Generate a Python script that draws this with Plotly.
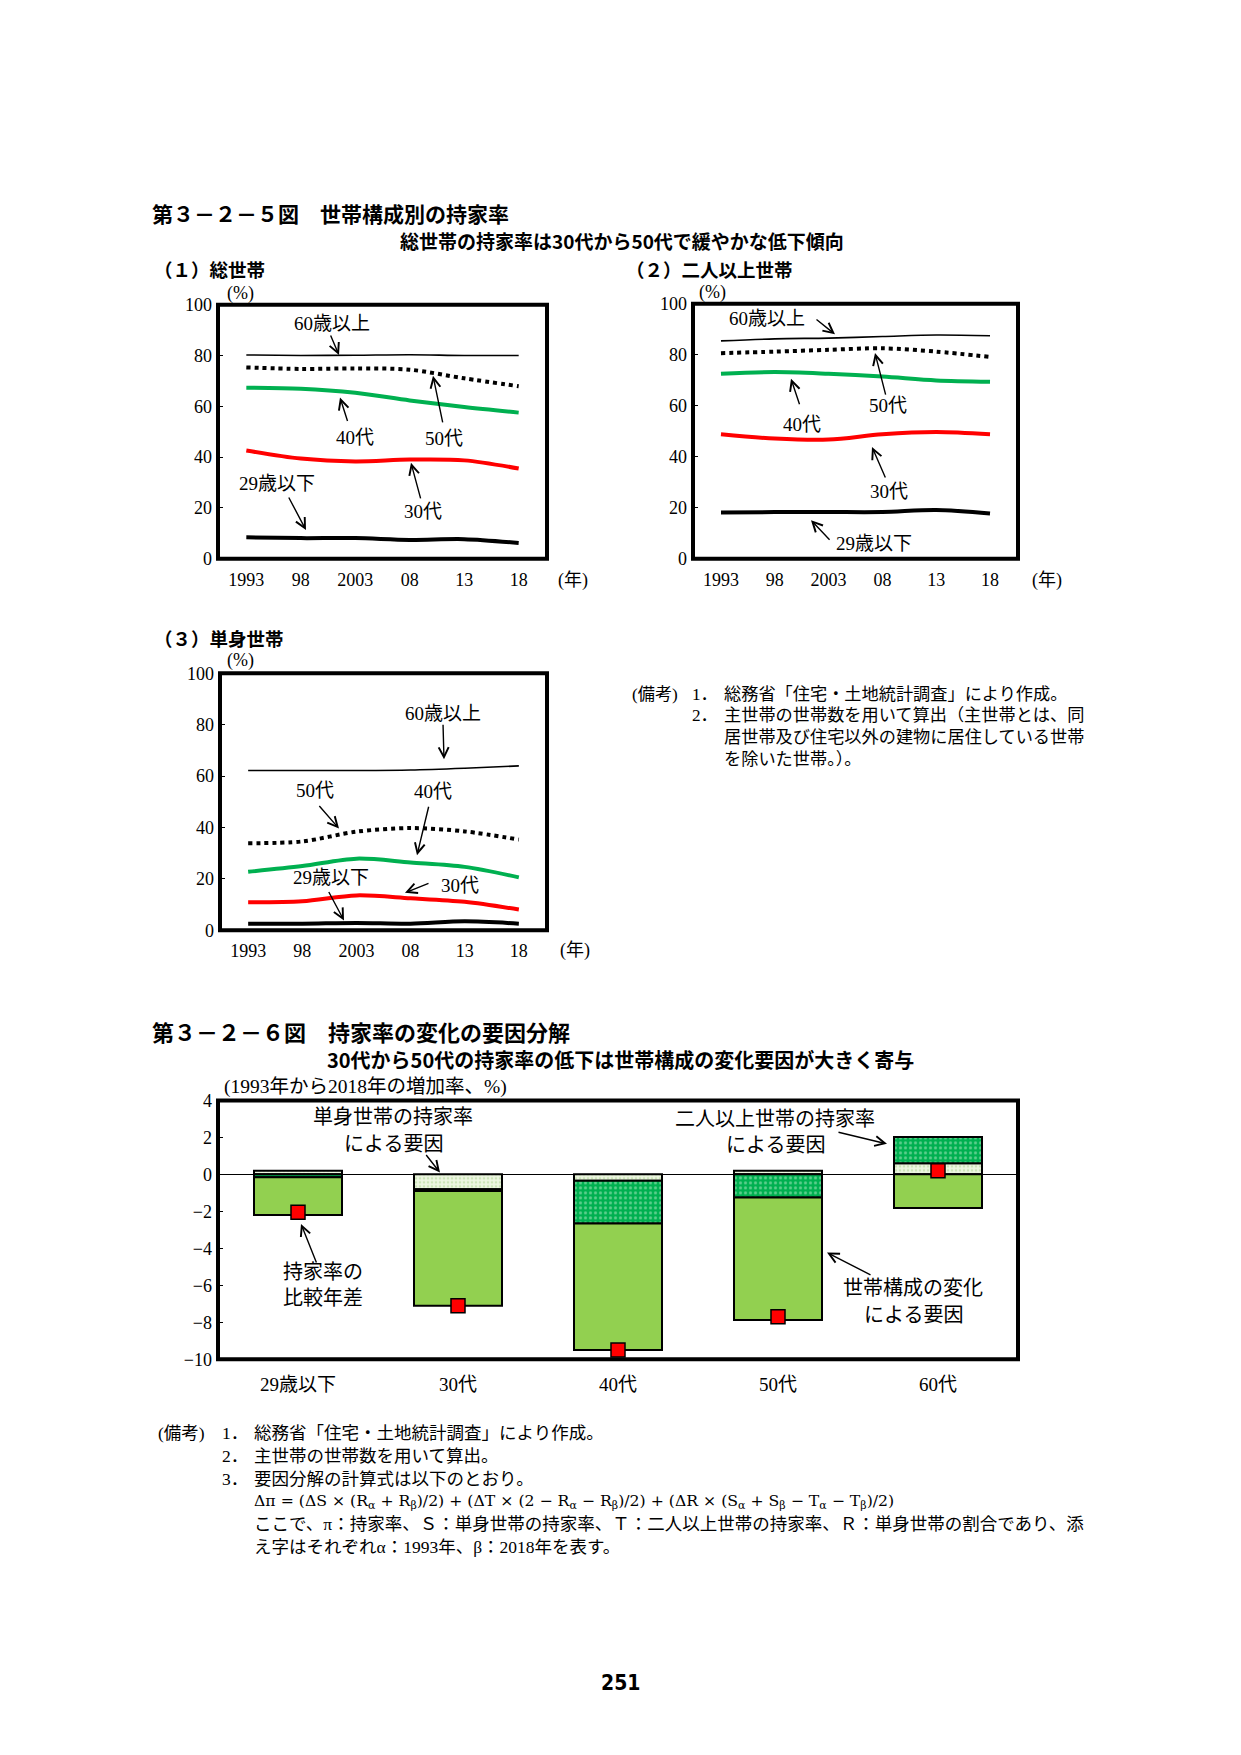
import plotly.graph_objects as go

# the page body has an 8px margin, so the figure is placed at (8, 8)
OFF = 8
W, H = 1222, 1735

# ---- data: home-ownership rate by household type (%) ----
years = [1993, 1998, 2003, 2008, 2013, 2018]
year_ticks = ["1993", "98", "2003", "08", "13", "18"]

total_60 = [80.2, 80.0, 80.1, 80.3, 80.0, 80.0]
total_50 = [75.3, 74.7, 74.9, 74.4, 71.0, 67.9]
total_40 = [67.3, 66.9, 65.3, 62.3, 59.7, 57.5]
total_30 = [42.6, 39.4, 38.3, 39.0, 38.7, 35.5]
total_29 = [8.4, 8.1, 8.1, 7.4, 7.7, 6.2]

multi_60 = [85.4, 86.2, 86.5, 87.1, 87.7, 87.4]
multi_50 = [80.6, 81.2, 81.9, 82.5, 81.2, 79.1]
multi_40 = [72.5, 73.2, 72.5, 71.4, 69.9, 69.4]
multi_30 = [48.8, 47.1, 46.7, 48.8, 49.7, 48.8]
multi_29 = [18.1, 18.3, 18.3, 18.3, 19.1, 17.7]

single_60 = [62.2, 62.2, 62.2, 62.4, 63.1, 64.0]
single_50 = [33.9, 34.6, 38.4, 39.8, 38.5, 35.3]
single_40 = [22.8, 25.0, 27.9, 26.4, 24.7, 20.6]
single_30 = [10.9, 11.3, 13.6, 12.5, 11.1, 8.1]
single_29 = [2.6, 2.6, 2.9, 2.6, 3.5, 2.6]

# ---- data: factor decomposition 1993 -> 2018 (%pt) ----
age_groups = ["29歳以下", "30代", "40代", "50代", "60代"]
f_single = [0.2, -0.8, -0.35, 0.2, 0.6]
f_multi = [-0.15, -0.1, -2.3, -1.25, 1.42]
f_comp = [-2.05, -6.2, -6.85, -6.62, -1.82]
rate_diff = [-2.05, -7.1, -9.5, -7.7, 0.2]

SERIF = "Liberation Serif, Noto Sans CJK JP"
GOTH = "Noto Sans CJK JP"


def px(x):
    # page pixel -> paper fraction
    return (x - OFF) / W


def py(y):
    return 1 - (y - OFF) / H


# line styles: 60+ thin, 50s dotted, 40s green, 30s red, <=29 thick black
line_styles = [
    dict(color="black", width=1.6),
    dict(color="black", width=4, dash="dot"),
    dict(color="#00b050", width=4),
    dict(color="#ff0000", width=4),
    dict(color="black", width=4),
]

panels = [
    # axis suffix, series, x domain px, y domain px (top, bottom)
    ("", [total_60, total_50, total_40, total_30, total_29], (218, 547), (298, 555)),
    ("2", [multi_60, multi_50, multi_40, multi_30, multi_29], (693, 1018), (297, 555)),
    ("3", [single_60, single_50, single_40, single_30, single_29], (220, 547), (671, 931)),
]

fig = go.Figure()
layout = dict(
    width=W, height=H,
    margin=dict(l=0, r=0, t=0, b=0),
    paper_bgcolor="white", plot_bgcolor="white",
    showlegend=False,
    barmode="relative",
)
shapes = []

for sfx, series, (x0, x1), (top, bot) in panels:
    for vals, st in zip(series, line_styles):
        fig.add_trace(go.Scatter(
            x=years, y=vals, mode="lines",
            line=dict(shape="spline", smoothing=0.9, **st),
            xaxis="x" + sfx, yaxis="y" + sfx, hoverinfo="skip",
        ))
    layout["xaxis" + sfx] = dict(
        domain=[px(x0), px(x1)], anchor="y" + sfx,
        range=[1990.4, 2020.6], tickvals=years, ticktext=year_ticks,
        showgrid=False, zeroline=False, showline=False, ticks="",
        ticklabelstandoff=8,
        tickfont=dict(family=SERIF, size=18, color="black"),
    )
    layout["yaxis" + sfx] = dict(
        domain=[py(bot), py(top)], anchor="x" + sfx,
        range=[0, 100], dtick=20,
        showgrid=False, zeroline=False, showline=False,
        ticks="inside", ticklen=5, tickcolor="black",
        ticklabelstandoff=5,
        tickfont=dict(family=SERIF, size=18, color="black"),
    )
    shapes.append(dict(
        type="rect", xref="x%s domain" % sfx, yref="y%s domain" % sfx,
        x0=0, x1=1, y0=0, y1=1, line=dict(color="black", width=4),
        layer="above",
    ))

# ---- factor bars ----
fig.add_trace(go.Bar(
    x=age_groups, y=f_single, width=0.55, xaxis="x4", yaxis="y4",
    marker=dict(
        color="#eef6e2", line=dict(color="black", width=2),
        pattern=dict(shape=".", fgcolor="#a9d18e", size=4, solidity=0.35,
                     fillmode="overlay"),
    ),
))
fig.add_trace(go.Bar(
    x=age_groups, y=f_multi, width=0.55, xaxis="x4", yaxis="y4",
    marker=dict(
        color="#00b050", line=dict(color="black", width=2),
        pattern=dict(shape=".", fgcolor="#b8ecc8", size=5, solidity=0.3,
                     fillmode="overlay"),
    ),
))
fig.add_trace(go.Bar(
    x=age_groups, y=f_comp, width=0.55, xaxis="x4", yaxis="y4",
    marker=dict(color="#92d050", line=dict(color="black", width=2)),
))
fig.add_trace(go.Scatter(
    x=age_groups, y=rate_diff, mode="markers", xaxis="x4", yaxis="y4",
    marker=dict(symbol="square", size=14, color="#ff0000",
                line=dict(color="black", width=1.5)),
))
layout["xaxis4"] = dict(
    domain=[px(218), px(1018)], anchor="y4", type="category",
    range=[-0.5, 4.5], showgrid=False, zeroline=False, showline=False,
    ticks="", ticklabelstandoff=12,
    tickfont=dict(family=SERIF, size=19, color="black"),
)
layout["yaxis4"] = dict(
    domain=[py(1365), py(1103)], anchor="x4",
    range=[-10, 4], dtick=2,
    showgrid=False, zeroline=True, zerolinecolor="black", zerolinewidth=1,
    showline=False, ticks="inside", ticklen=5, tickcolor="black",
    ticklabelstandoff=5,
    tickfont=dict(family=SERIF, size=18, color="black"),
)
shapes.append(dict(
    type="rect", xref="x4 domain", yref="y4 domain",
    x0=0, x1=1, y0=0, y1=1, line=dict(color="black", width=4), layer="above",
))

annotations = []


def text(s, x, y, size=19, family=SERIF, anchor="center", bold=False):
    annotations.append(dict(
        text=s, x=px(x), y=py(y), xref="paper", yref="paper",
        xanchor=anchor, yanchor="middle", showarrow=False,
        font=dict(family=family, size=size, color="black",
                  weight="bold" if bold else "normal"),
    ))


def arrow(tail, head):
    annotations.append(dict(
        text="", x=px(head[0]), y=py(head[1]), xref="paper", yref="paper",
        ax=tail[0] - head[0], ay=tail[1] - head[1],
        axref="pixel", ayref="pixel", showarrow=True,
        arrowhead=5, arrowsize=1.4, arrowwidth=1.4, arrowcolor="black",
        standoff=0,
    ))


# titles
text("第３－２－５図　世帯構成別の持家率", 150, 205, 21, GOTH, "left", True)
text("総世帯の持家率は30代から50代で緩やかな低下傾向", 622, 233, 19, GOTH, "center", True)
text("（１）総世帯", 152, 262, 18.5, GOTH, "left", True)
text("（２）二人以上世帯", 624, 262, 18.5, GOTH, "left", True)
text("（３）単身世帯", 152, 635, 18.5, GOTH, "left", True)

# units
for ux, uy in [(240, 287), (713, 286), (240, 658)]:
    text("(%)", ux, uy, 18)
for ux, uy in [(573, 577), (1047, 577), (575, 951)]:
    text("(年)", ux, uy, 18)

# panel 1 labels
text("60歳以上", 332, 317)
arrow((330, 328), (339, 349))
text("40代", 355, 432)
arrow((348, 417), (340, 392))
text("50代", 444, 433)
arrow((443, 418), (433, 370))
text("30代", 423, 507)
arrow((421, 495), (411, 458))
text("29歳以下", 277, 479)
arrow((288, 492), (306, 526))

# panel 2 labels
text("60歳以上", 767, 312)
arrow((815, 312), (835, 328))
text("50代", 888, 400)
arrow((886, 390), (875, 347))
text("40代", 802, 419)
arrow((800, 400), (791, 373))
text("30代", 889, 487)
arrow((886, 474), (872, 442))
text("29歳以下", 874, 540)
arrow((831, 537), (811, 516))

# panel 3 labels
text("60歳以上", 443, 712)
arrow((443, 722), (444, 758))
text("50代", 315, 790)
arrow((318, 804), (339, 828))
text("40代", 433, 791)
arrow((429, 805), (417, 855))
text("30代", 460, 886)
arrow((430, 883), (405, 893))
text("29歳以下", 331, 878)
arrow((328, 891), (344, 921))

# notes (top right)
NOTE = 17.2
text("(備考)", 630, 692, NOTE, SERIF, "left")
text("1．", 690, 692, NOTE, SERIF, "left")
text("総務省「住宅・土地統計調査」により作成。", 722, 692, NOTE, SERIF, "left")
text("2．", 690, 714, NOTE, SERIF, "left")
text("主世帯の世帯数を用いて算出（主世帯とは、同", 722, 714, NOTE, SERIF, "left")
text("居世帯及び住宅以外の建物に居住している世帯", 722, 736, NOTE, SERIF, "left")
text("を除いた世帯。）。", 722, 758, NOTE, SERIF, "left")

# bar chart titles
text("第３－２－６図　持家率の変化の要因分解", 150, 1033, 22, GOTH, "left", True)
text("30代から50代の持家率の低下は世帯構成の変化要因が大きく寄与", 620, 1062, 20, GOTH, "center", True)
text("(1993年から2018年の増加率、%)", 222, 1089, 19.5, SERIF, "left")

# bar chart labels
text("単身世帯の持家率", 393, 1120, 20)
text("による要因", 393, 1147, 20)
arrow((425, 1157), (440, 1176))
text("持家率の", 323, 1277, 20)
text("比較年差", 323, 1303, 20)
arrow((317, 1268), (301, 1228))
text("二人以上世帯の持家率", 775, 1122, 20)
text("による要因", 775, 1148, 20)
arrow((837, 1135), (887, 1147))
text("世帯構成の変化", 913, 1293, 20)
text("による要因", 913, 1320, 20)
arrow((872, 1280), (827, 1257))

# notes (bottom)
NOTE_B = 17.5
text("(備考)", 156, 1440, NOTE_B, SERIF, "left")
text("1．", 220, 1440, NOTE_B, SERIF, "left")
text("総務省「住宅・土地統計調査」により作成。", 252, 1440, NOTE_B, SERIF, "left")
text("2．", 220, 1463, NOTE_B, SERIF, "left")
text("主世帯の世帯数を用いて算出。", 252, 1463, NOTE_B, SERIF, "left")
text("3．", 220, 1486, NOTE_B, SERIF, "left")
text("要因分解の計算式は以下のとおり。", 252, 1486, NOTE_B, SERIF, "left")
text("Δπ = (ΔS × (R<sub>α</sub> + R<sub>β</sub>)/2) + (ΔT × (2 − R<sub>α</sub> − R<sub>β</sub>)/2)"
     " + (ΔR × (S<sub>α</sub> + S<sub>β</sub> − T<sub>α</sub> − T<sub>β</sub>)/2)",
     252, 1509, 15.7, "DejaVu Serif", "left")
text("ここで、π：持家率、Ｓ：単身世帯の持家率、Ｔ：二人以上世帯の持家率、Ｒ：単身世帯の割合であり、添",
     252, 1532, NOTE_B, SERIF, "left")
text("え字はそれぞれα：1993年、β：2018年を表す。", 252, 1555, NOTE_B, SERIF, "left")

# page number
text("251", 620, 1692, 21, "DejaVu Sans Condensed, Liberation Sans Narrow, Liberation Sans",
     "center", True)

layout["shapes"] = shapes
layout["annotations"] = annotations
fig.update_layout(**layout)

fig.write_html("out.html")
